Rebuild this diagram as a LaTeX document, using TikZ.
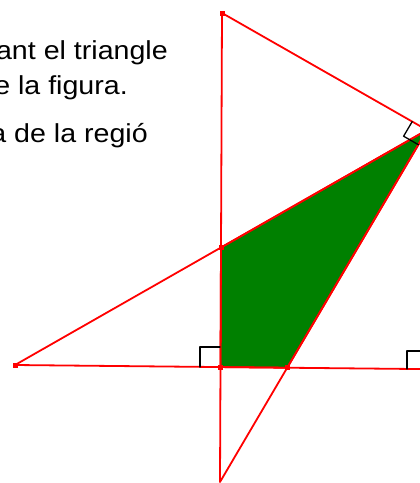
\documentclass[tikz,border=0pt]{standalone}
\usepackage{fontspec}
\newfontfamily\figfont[FakeStretch=1.1]{Liberation Sans}
\begin{document}
\begin{tikzpicture}[x=1pt, y=-1pt, line cap=round, line join=round,
		seg/.style={draw=red, line width=1.8pt},
		rangle/.style={black, line width=1.3pt},
		txt/.style={font=\figfont\fontsize{26}{30}\selectfont, inner sep=0pt, anchor=base east}]
	\useasboundingbox (0,0) rectangle (420,483);
	\clip (0,0) rectangle (420,483);
	\path
	(222,13) coordinate (T)
	(220,482) coordinate (B)
	(15,365) coordinate (L)
	(427,130) coordinate (V)
	(445,369.3) coordinate (E);
	\path
	(intersection of L--V and T--B) coordinate (P)
	(intersection of L--E and T--B) coordinate (F)
	(intersection of L--E and B--V) coordinate (Q);
	\filldraw[seg, fill=green!50!black] (P) -- (V) -- (Q) -- (F) -- cycle;
	\draw[seg] (T) -- (B) (T) -- (V) -- (B) (L) -- (V) (L) -- (E);
	% right angles
	\draw[rangle] (200,367) -- (200,347) -- (220,347);
	\draw[rangle] (407,369) -- (407,351) -- (427,351);
	\draw[rangle] (412.2,121.6) -- (403.6,136.2) -- (418.4,144.7);
	\foreach \p in {T, L, P, F, Q} {
		\fill[red] (\p) ++(-2.5,-2.5) rectangle ++(5,5);
	}
	\node[txt] (line1) at (168,59) {ant el triangle};
	\node[txt] (line2) at (128,94) {e la figura.};
	\node[txt] (line3) at (148,142) {a de la regió};
\end{tikzpicture}
\end{document}
